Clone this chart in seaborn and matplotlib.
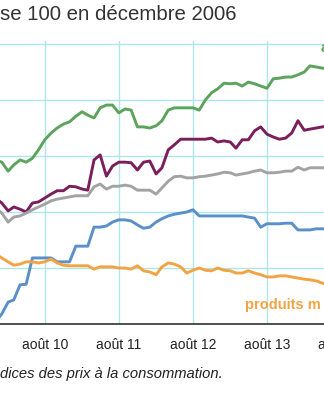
import numpy as np
import pandas as pd
import matplotlib
matplotlib.use("Agg")
import matplotlib.pyplot as plt
import seaborn as sns

# Monthly dates (Dec 2009 .. Jun 2014)
months = pd.date_range("2009-12-01", periods=55, freq="MS")

green = [119.3, 118.9, 117.3, 118.4, 119.3, 118.9, 119.6, 121.1, 122.9, 124.1,
         125.0, 125.7, 126.1, 127.1, 127.9, 127.3, 126.8, 128.6, 129.1, 129.1,
         127.7, 128.4, 128.2, 125.2, 125.2, 125.0, 125.4, 126.3, 128.2, 128.6,
         128.6, 128.6, 128.6, 128.2, 130.0, 131.3, 132.0, 133.0, 132.9, 133.0,
         132.5, 133.2, 132.9, 132.5, 132.1, 133.8, 133.9, 134.1, 134.1, 134.5,
         135.0, 136.1, 135.9, 135.7, 135.5]
purple = [112.5, 111.6, 110.2, 110.9, 110.5, 110.0, 111.6, 111.8, 112.5, 113.2,
          113.8, 113.8, 114.6, 114.5, 114.1, 113.9, 119.3, 120.2, 116.4, 118.2,
          118.9, 118.9, 118.8, 117.5, 118.9, 119.1, 116.8, 117.9, 121.1, 122.0,
          123.0, 123.0, 123.0, 123.0, 123.0, 123.2, 122.5, 122.7, 122.5, 121.4,
          122.9, 122.9, 124.5, 125.2, 123.9, 123.4, 123.0, 123.2, 124.1, 126.3,
          124.6, 124.8, 125.0, 125.2, 125.4]
gray = [110.7, 109.8, 108.2, 109.1, 109.3, 109.8, 110.4, 110.9, 111.4, 112.0,
        112.3, 112.5, 112.7, 112.9, 112.9, 112.9, 114.5, 115.0, 114.1, 114.6,
        114.6, 114.8, 114.6, 113.9, 113.9, 113.9, 113.2, 114.3, 115.5, 116.3,
        116.4, 116.1, 116.1, 116.3, 116.4, 116.6, 116.8, 117.1, 117.0, 116.6,
        116.8, 117.0, 117.3, 117.5, 117.0, 117.0, 117.1, 117.3, 117.3, 118.0,
        117.5, 117.9, 117.9, 117.9, 117.9]
blue = [90.4, 91.8, 93.9, 94.3, 97.0, 97.1, 101.8, 101.8, 101.8, 101.8,
        101.1, 101.1, 101.1, 103.9, 103.9, 103.9, 107.3, 107.3, 107.5, 108.2,
        108.6, 108.6, 108.4, 107.7, 107.1, 107.3, 108.2, 108.8, 109.3, 109.6,
        109.8, 110.0, 110.4, 109.3, 109.3, 109.3, 109.3, 109.3, 109.3, 109.3,
        109.3, 109.1, 108.9, 107.3, 107.9, 107.9, 107.9, 108.0, 108.0, 106.8,
        106.8, 106.8, 107.0, 107.0, 107.0]
orange = [102.5, 101.8, 101.1, 100.5, 100.7, 101.1, 101.1, 100.9, 101.1, 101.6,
          100.9, 100.5, 100.4, 100.4, 100.4, 100.4, 99.8, 100.2, 100.2, 100.2,
          100.0, 100.0, 99.8, 100.4, 99.5, 99.3, 98.8, 100.2, 100.9, 100.7,
          100.2, 99.1, 99.6, 100.0, 99.6, 99.5, 100.0, 99.6, 99.5, 99.1,
          99.1, 99.5, 99.1, 98.8, 98.4, 98.4, 98.6, 98.6, 98.4, 98.2,
          98.0, 97.9, 97.7, 97.3, 97.1]

series_names = ["vert", "violet", "gris", "bleu", "orange"]
series_values = [green, purple, gray, blue, orange]
colors = ["#5ca35c", "#7a1f5c", "#a3a3a3", "#5b8fc9", "#f2a444"]

tick_dates = pd.to_datetime(["2010-08-01", "2011-08-01", "2012-08-01",
                             "2013-08-01", "2014-08-01"])
tick_labels = ["août 10", "août 11", "août 12", "août 13", "août 14"]
y_grid = [90, 100, 110, 120, 130, 140]

title_text = "se 100 en décembre 2006"
footer_text = "dices des prix à la consommation."
label_orange = "produits m"
label_green = "a"

df = pd.concat([pd.DataFrame({"date": months, "valeur": v, "serie": n})
                for n, v in zip(series_names, series_values)], ignore_index=True)

sns.set_style("white")
plt.rcParams["font.family"] = ["Liberation Sans", "DejaVu Sans"]

W, H = 324, 400
fig = plt.figure(figsize=(W / 100, H / 100), dpi=100)
ax = fig.add_axes([-30 / W, 76 / H, 390 / W, 283 / H])

sns.lineplot(data=df, x="date", y="valeur", hue="serie",
             palette=dict(zip(series_names, colors)), linewidth=2.1,
             legend=False, ax=ax, zorder=3)

ax.set_xlim(pd.Timestamp("2009-07-28"), pd.Timestamp("2014-11-03"))
ax.set_ylim(90, 140.54)
ax.set_xticks(tick_dates)
ax.set_xticklabels(tick_labels)
ax.set_yticks(y_grid)
ax.set_yticklabels([])
ax.tick_params(axis="y", length=0)
ax.tick_params(axis="x", length=4, width=1, color="#333333", pad=6,
               labelsize=10, labelcolor="#222222")
ax.grid(True, color="#aee6ef", linewidth=1.0, zorder=0)
ax.set_axisbelow(True)
for s in ["left", "right", "top"]:
    ax.spines[s].set_visible(False)
ax.spines["bottom"].set_color("#333333")
ax.spines["bottom"].set_linewidth(1.2)
ax.set_xlabel("")
ax.set_ylabel("")

fig.text(0 / W, 1 - 19.5 / H, title_text, fontsize=14.7, color="#333333",
         va="baseline", ha="left")
fig.text(0 / W, 1 - 378 / H, footer_text, fontsize=10.6, style="italic",
         color="#222222", va="baseline", ha="left")
fig.text(245 / W, 1 - 309 / H, label_orange, fontsize=10.5, fontweight="bold",
         color="#f2a444", va="baseline", ha="left")
fig.text(321 / W, 1 - 52 / H, label_green, fontsize=10.5, fontweight="bold",
         color="#5ca35c", va="baseline", ha="left")

fig.savefig("out.png", dpi=100)
